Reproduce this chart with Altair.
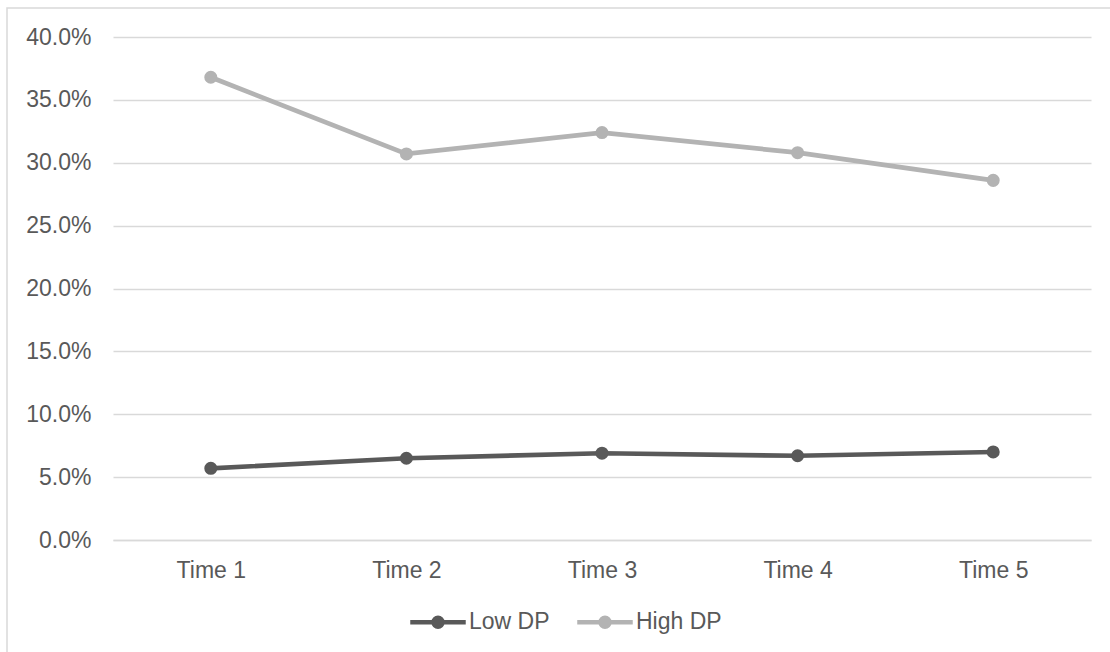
import altair as alt
import pandas as pd

# Share of respondents by measurement wave, split by DP group
times = ["Time 1", "Time 2", "Time 3", "Time 4", "Time 5"]
low_dp = [0.057, 0.065, 0.069, 0.067, 0.070]
high_dp = [0.368, 0.307, 0.324, 0.308, 0.286]
series_names = ["Low DP", "High DP"]
series_colors = ["#595959", "#b3b3b3"]
y_ticks = [0.0, 0.05, 0.10, 0.15, 0.20, 0.25, 0.30, 0.35, 0.40]

rows = []
for name, vals in zip(series_names, [low_dp, high_dp]):
    for t, v in zip(times, vals):
        rows.append({"time": t, "value": v, "series": name})
df = pd.DataFrame(rows)

W, H = 978, 503
PAD = {"left": 113, "top": 37, "right": 19, "bottom": 112}
FONT = "Liberation Sans"
FS = 23
TEXT = "#595959"
GRID = "#d9d9d9"

# legend swatch: a short line with a dot in the middle (unit coords, scaled by sqrt(size)/2)
swatch = ("M-1,0L1,0"
          "M-0.16,0A0.16,0.16,0,1,1,0.16,0A0.16,0.16,0,1,1,-0.16,0"
          "M-0.06,0A0.06,0.06,0,1,1,0.06,0A0.06,0.06,0,1,1,-0.06,0")

x_enc = alt.X("time:N", sort=times,
              scale=alt.Scale(type="point", padding=0.5),
              axis=alt.Axis(title=None, labelAngle=0, ticks=False, grid=False,
                            domain=True, domainColor=GRID, domainWidth=1.5,
                            labelPadding=19, labelFontSize=FS, labelColor=TEXT,
                            labelFont=FONT))
y_enc = alt.Y("value:Q",
              scale=alt.Scale(domain=[0, 0.40], nice=False, zero=True),
              axis=alt.Axis(title=None, format=".1%", values=y_ticks, ticks=False,
                            domain=False, grid=True, gridColor=GRID, gridWidth=1.5,
                            labelPadding=22, labelFontSize=FS, labelColor=TEXT,
                            labelFont=FONT))
color_enc = alt.Color("series:N", sort=series_names,
                      scale=alt.Scale(domain=series_names, range=series_colors),
                      legend=alt.Legend(title=None, orient="none", direction="horizontal",
                                        legendX=295, legendY=555,
                                        symbolType=swatch, symbolSize=3080,
                                        symbolStrokeWidth=4.5, labelFontSize=FS,
                                        labelColor=TEXT, labelFont=FONT,
                                        labelOffset=1, columnPadding=18, padding=0))

lines = alt.Chart(df).mark_line(strokeWidth=4.7).encode(
    x=x_enc, y=y_enc, color=color_enc, detail="series:N")
points = alt.Chart(df).mark_circle(size=170, opacity=1).encode(
    x=x_enc, y=y_enc, color=alt.Color("series:N", sort=series_names,
                                      scale=alt.Scale(domain=series_names, range=series_colors),
                                      legend=None))

# outer chart frame
frame = alt.Chart(pd.DataFrame({"f": [0]})).mark_rect(
    fill=None, stroke=GRID, strokeWidth=1.5).encode(
    x=alt.value(-106), x2=alt.value(W + 30),
    y=alt.value(-29), y2=alt.value(H + 140))

chart = alt.layer(frame, lines, points).properties(
    width=W, height=H,
    padding=PAD,
    autosize=alt.AutoSizeParams(type="none"),
    background="white",
).configure_view(stroke=None)

chart.save("out.html", embed_options={"renderer": "svg", "actions": False})
